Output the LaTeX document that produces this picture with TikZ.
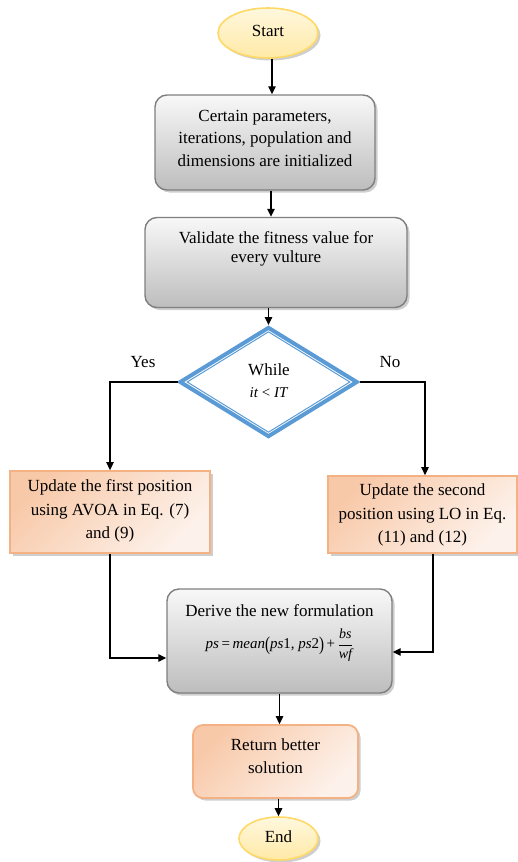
\documentclass[tikz,border=0pt]{standalone}
\usepackage{fontspec}
\setmainfont{Liberation Serif}
\usepackage{graphicx}
\usetikzlibrary{shapes.geometric,arrows.meta,shadows}

\definecolor{grayTop}{HTML}{F8F8F8}
\definecolor{grayBot}{HTML}{BDBDBD}
\definecolor{grayLine}{HTML}{7F7F7F}
\definecolor{orDark}{HTML}{F8C9A9}
\definecolor{orLight}{HTML}{FDF2EB}
\definecolor{orLine}{HTML}{F4B183}
\definecolor{yeTop}{HTML}{FFF8DE}
\definecolor{yeBot}{HTML}{FFE9A6}
\definecolor{yeLine}{HTML}{FFD966}
\definecolor{flowBlue}{HTML}{5B9BD5}

\begin{document}
\begin{tikzpicture}[x=1pt,y=-1pt,
  txt/.style={font=\fontsize{17}{22.5}\selectfont, align=center, inner sep=0pt},
  shade/.style={drop shadow={shadow xshift=2.5pt, shadow yshift=-2.5pt, opacity=.35, fill=black!55}},
  graybox/.style={shape=rectangle, rounded corners=12pt, draw=grayLine, line width=1.4pt,
    top color=grayTop, bottom color=grayBot, shade, inner sep=0pt},
  orbox/.style={shape=rectangle, draw=orLine, line width=1.8pt, shading=axis,
    top color=orDark, bottom color=orLight, shading angle=45, shade, inner sep=0pt},
  terminal/.style={shape=ellipse, draw=yeLine, line width=1.6pt, top color=yeTop,
    bottom color=yeBot, shade, inner sep=0pt},
  arr/.style={-{Triangle[length=8pt,width=7.5pt]}, line width=1.3pt},
]
\useasboundingbox (0,0) rectangle (518,862);

% terminals and process boxes
\node[terminal, minimum width=100pt, minimum height=50pt] (st) at (268,33) {};
\node[txt] (tst) at (268,31) {Start};

\node[graybox, minimum width=220pt, minimum height=95pt] (b1) at (265,142.5) {};
\node[txt] (t1) at (265,138) {Certain parameters,\\iterations, population and\\dimensions are initialized};

\node[graybox, minimum width=262pt, minimum height=90pt] (b2) at (276,262.5) {};
\node[txt, font=\fontsize{17}{18.5}\selectfont] (t2) at (276,249) {Validate the fitness value for\\every vulture};

% decision with a thick-thin border
\node[diamond, aspect=1.618, minimum width=178pt, minimum height=110pt, inner sep=0pt,
  draw=flowBlue, line width=4pt, fill=white] (dg) at (268.5,382) {};
\node[diamond, aspect=1.618, minimum width=163pt, minimum height=100.7pt, inner sep=0pt,
  draw=flowBlue, line width=1pt] (dgi) at (268.5,382) {};
\node[txt] (tw) at (269,370) {While};
\node[txt, font=\fontsize{15}{18}\selectfont] (tc) at (269,393) {\textit{it} < \textit{IT}};

\node[txt] (yes) at (143,362) {Yes};
\node[txt] (no) at (390,362) {No};

\node[orbox, minimum width=200pt, minimum height=82pt] (b4) at (110,512) {};
\node[txt, font=\fontsize{17}{23.5}\selectfont] (t4) at (110,511) {Update the first position\\using AVOA in Eq. (7)\\and (9)};

\node[orbox, minimum width=189pt, minimum height=77pt] (b5) at (422.5,514.5) {};
\node[txt, font=\fontsize{17}{23.5}\selectfont] (t5) at (422.5,515) {Update the second\\position using LO in Eq.\\(11) and (12)};

\node[graybox, minimum width=225pt, minimum height=104pt] (b6) at (279.5,641) {};
\node[txt] (t6) at (279.5,611) {Derive the new formulation};
\node[inner sep=0pt, font=\fontsize{15}{17}\selectfont] (f6) at (279.5,645)
  {\textit{ps}\,=\,\textit{mean}\raisebox{-0.25ex}{\scalebox{1}[1.3]{(}}\textit{ps}1, \textit{ps}2\raisebox{-0.25ex}{\scalebox{1}[1.3]{)}}\,+\,%
   $\displaystyle\frac{\hbox{\fontsize{14}{14}\selectfont\itshape bs}}{\hbox{\fontsize{14}{14}\selectfont\itshape wf}}$};

\node[orbox, rounded corners=10pt, minimum width=165pt, minimum height=73pt] (b7) at (275.5,761.5) {};
\node[txt, font=\fontsize{17}{23}\selectfont] (t7) at (275.5,756) {Return better\\solution};

\node[terminal, minimum width=79pt, minimum height=43pt] (en) at (278.5,838.5) {};
\node[txt] (ten) at (278.5,837) {End};

% connectors
\draw[arr] ([xshift=4pt]st.south) -- ([xshift=4pt]st.south |- b1.north);
\draw[arr] ([xshift=6pt]b1.south) -- ([xshift=6pt]b1.south |- b2.north);
\draw[arr] (b2.south -| dg.north) -- (dg.north);
\draw[arr] (dg.west) -| (b4.north);
\draw[arr] (dg.east) -| ([xshift=2.5pt]b5.north);
\draw[arr] (b4.south) |- ([yshift=-17pt]b6.west);
\draw[arr] ([xshift=10.5pt]b5.south) |- ([yshift=-11pt]b6.east);
\draw[arr] (b6.south) -- (b6.south |- b7.north);
\draw[arr] ([xshift=3pt]b7.south) -- ([xshift=3pt]b7.south |- en.north);
\end{tikzpicture}
\end{document}
